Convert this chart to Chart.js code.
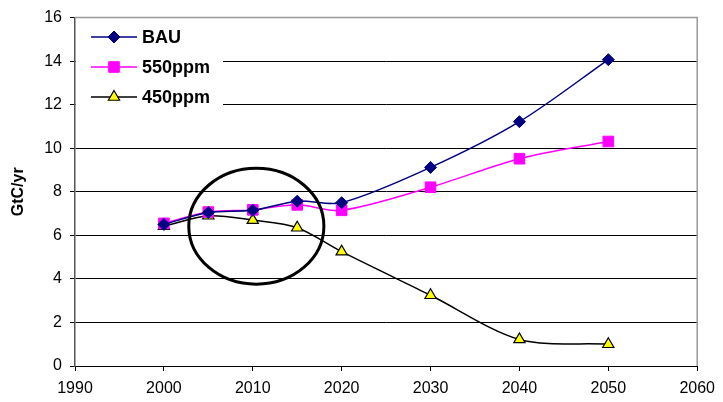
<!DOCTYPE html>
<html>
<head>
<meta charset="utf-8">
<script src="https://cdn.jsdelivr.net/npm/chart.js@4/dist/chart.umd.min.js"></script>
<style>
  html, body { margin: 0; padding: 0; background: #fff; }
  #wrap { width: 723px; height: 402px; }
</style>
</head>
<body>
<div id="wrap"><canvas id="emissionsChart" width="723" height="402"></canvas></div>
<script>
const years = [2000, 2005, 2010, 2015, 2020, 2030, 2040, 2050];
const bau = [6.5, 7.05, 7.15, 7.57, 7.5, 9.12, 11.22, 14.07];
const ppm550 = [6.55, 7.07, 7.17, 7.4, 7.15, 8.21, 9.52, 10.31];
const ppm450 = [6.42, 6.9, 6.7, 6.35, 5.25, 3.25, 1.22, 1.0];
const xTicks = [1990, 2000, 2010, 2020, 2030, 2040, 2050, 2060];
const yTicks = [0, 2, 4, 6, 8, 10, 12, 14, 16];
const yTitle = 'GtC/yr';

// ring drawn round the near-term years (data units)
const ringCenter = [2010.4, 6.42];
const ringRadius = [7.6, 2.66];

const FONT = "'Liberation Sans', Arial, sans-serif";

function pts(vals) {
    return years.map((y, i) => ({ x: y, y: vals[i] }));
}

const frameAndLegend = {
    id: 'frameAndLegend',
    beforeDatasetsDraw(chart) {
        const { ctx, chartArea: a } = chart;
        ctx.save();
        ctx.strokeStyle = '#999';
        ctx.lineWidth = 1.5;
        ctx.beginPath();
        ctx.moveTo(a.left, a.top);
        ctx.lineTo(a.right, a.top);
        ctx.lineTo(a.right, a.bottom);
        ctx.stroke();

        // y axis title
        ctx.save();
        ctx.translate(19, (a.top + a.bottom) / 2);
        ctx.rotate(-Math.PI / 2);
        ctx.fillStyle = '#000';
        ctx.font = 'bold 16px ' + FONT;
        ctx.textAlign = 'center';
        ctx.textBaseline = 'middle';
        ctx.fillText(yTitle, 0, 0);
        ctx.restore();

        // legend box sits inside the plot, hiding the grid
        ctx.fillStyle = '#fff';
        ctx.fillRect(a.left + 1, 23, 147, 88);
        chart.data.datasets.forEach((ds, i) => {
            const y = 37 + i * 30;
            ctx.strokeStyle = ds.borderColor;
            ctx.lineWidth = 1.5;
            ctx.beginPath();
            ctx.moveTo(91, y);
            ctx.lineTo(137, y);
            ctx.stroke();
            ctx.fillStyle = ds.pointBackgroundColor;
            ctx.strokeStyle = ds.pointBorderColor;
            ctx.lineWidth = ds.pointBorderWidth;
            Chart.helpers.drawPoint(ctx, {
                pointStyle: ds.pointStyle,
                radius: ds.pointRadius,
                rotation: 0,
                borderWidth: ds.pointBorderWidth
            }, 114, y);
            ctx.fillStyle = '#000';
            ctx.font = 'bold 18px ' + FONT;
            ctx.textBaseline = 'middle';
            ctx.textAlign = 'left';
            ctx.fillText(ds.label, 142, y + 1);
        });
        ctx.restore();
    },
    afterDatasetsDraw(chart) {
        const { ctx, scales: { x, y } } = chart;
        const cx = x.getPixelForValue(ringCenter[0]);
        const cy = y.getPixelForValue(ringCenter[1]);
        const rx = x.getPixelForValue(ringCenter[0] + ringRadius[0]) - cx;
        const ry = cy - y.getPixelForValue(ringCenter[1] + ringRadius[1]);
        ctx.save();
        ctx.strokeStyle = '#000';
        ctx.lineWidth = 3;
        ctx.beginPath();
        ctx.ellipse(cx, cy, rx, ry, 0, 0, Math.PI * 2);
        ctx.stroke();
        ctx.restore();
    }
};

new Chart(document.getElementById('emissionsChart').getContext('2d'), {
    type: 'line',
    data: {
        datasets: [{
            label: 'BAU',
            data: pts(bau),
            borderColor: '#000080',
            borderWidth: 1.5,
            pointStyle: 'rectRot',
            pointRadius: 6,
            pointBackgroundColor: '#000080',
            pointBorderColor: '#000080',
            pointBorderWidth: 1,
            tension: 0.3
        }, {
            label: '550ppm',
            data: pts(ppm550),
            borderColor: '#ff00ff',
            borderWidth: 1.5,
            pointStyle: 'rect',
            pointRadius: 7.5,
            pointBackgroundColor: '#ff00ff',
            pointBorderColor: '#ff00ff',
            pointBorderWidth: 1,
            tension: 0.3
        }, {
            label: '450ppm',
            data: pts(ppm450),
            borderColor: '#000',
            borderWidth: 1.5,
            pointStyle: 'triangle',
            pointRadius: 6.5,
            pointBackgroundColor: '#ffff00',
            pointBorderColor: '#000',
            pointBorderWidth: 1.2,
            tension: 0.3
        }]
    },
    options: {
        responsive: false,
        animation: false,
        layout: { padding: { top: 15, right: 22, bottom: 0, left: 0 } },
        scales: {
            x: {
                type: 'linear',
                min: xTicks[0],
                max: xTicks[xTicks.length - 1],
                afterBuildTicks: s => { s.ticks = xTicks.map(v => ({ value: v })); },
                afterFit: s => { s.height = 36; },
                ticks: {
                    callback: v => String(v),
                    color: '#000',
                    font: { family: FONT, size: 16 },
                    padding: 8,
                    maxRotation: 0
                },
                grid: { drawOnChartArea: false, drawTicks: true, tickLength: 5, color: '#000' },
                border: { color: '#000', width: 1 }
            },
            y: {
                min: yTicks[0],
                max: yTicks[yTicks.length - 1],
                afterBuildTicks: s => { s.ticks = yTicks.map(v => ({ value: v })); },
                afterFit: s => { s.width = 75; },
                ticks: {
                    color: '#000',
                    font: { family: FONT, size: 16 },
                    padding: 8
                },
                grid: { color: '#000', lineWidth: 1, tickLength: 5 },
                border: { color: '#555', width: 1.5 }
            }
        },
        plugins: {
            legend: { display: false },
            tooltip: { enabled: false }
        }
    },
    plugins: [frameAndLegend]
});
</script>
</body>
</html>
